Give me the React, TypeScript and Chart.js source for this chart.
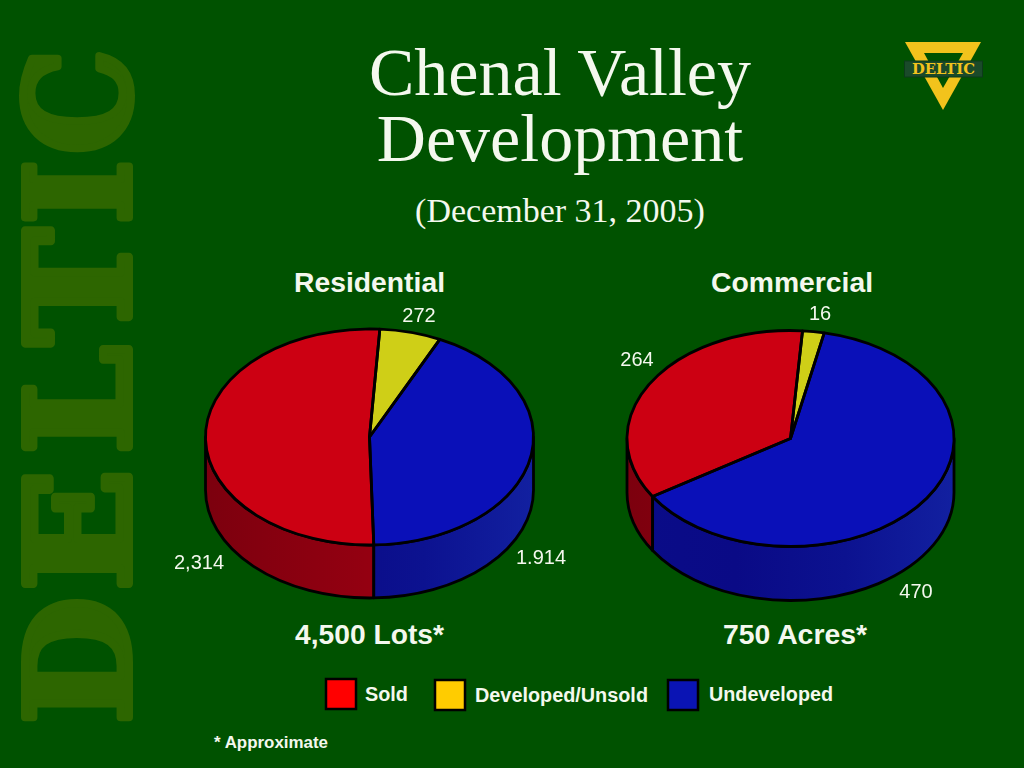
import React, { useEffect, useRef } from "react";
import { Chart, registerables } from "chart.js";

Chart.register(...registerables);

const categories = ["Sold", "Developed/Unsold", "Undeveloped"];
const residentialValues = [2314, 272, 1914];
const commercialValues = [264, 16, 470];
const residentialLabels = ["2,314", "272", "1.914"];
const commercialLabels = ["264", "16", "470"];

const topColors = ["#cc0012", "#cfcf17", "#0a10b8"];
const legendColors = ["#ff0000", "#ffcc00", "#0a14b4"];
const sideStops: string[][] = [
  ["#7c000e", "#8c0010", "#9c0012", "#a00012"],
  ["#8a8a10", "#9a9a10", "#a8a812", "#a8a812"],
  ["#0a0c88", "#0a0a86", "#0c1290", "#1220a0"],
];

const BG = "#005200";
const INK = "#000000";
const TEXT = "#f4f8ee";
const CANVAS_W = 421;
const LINE = 2.8;

const watermark: [string, number, number][] = [
  ["D", 598, 723],
  ["E", 470, 590],
  ["L", 347, 453],
  ["T", 230, 344],
  ["I", 161, 223],
  ["C", 50, 153],
];

type PieProps = {
  values: number[];
  labels: string[];
  rotation: number;
  labelOffsets: [number, number][];
  left: number;
  top: number;
  canvasH: number;
  radius: number;
  ryPx: number;
  depth: number;
};

function makePlugin(labels: string[], labelOffsets: [number, number][], ryPx: number, depth: number) {
  return {
    id: "pie3d",
    beforeDatasetsDraw(chart: any) {
      const ctx = chart.ctx as CanvasRenderingContext2D;
      const arcs = chart.getDatasetMeta(0).data as any[];
      const cx = arcs[0].x;
      const cy = arcs[0].y;
      const rx = arcs[0].outerRadius;
      arcs.forEach((arc, i) => {
        const s = arc.startAngle;
        const e = arc.endAngle;
        for (let k = -1; k < 3; k++) {
          const a = Math.max(s, 2 * Math.PI * k);
          const b = Math.min(e, 2 * Math.PI * k + Math.PI);
          if (b <= a) continue;
          const g = ctx.createLinearGradient(cx - rx, 0, cx + rx, 0);
          sideStops[i].forEach((c, j) => g.addColorStop(j / (sideStops[i].length - 1), c));
          ctx.beginPath();
          ctx.ellipse(cx, cy, rx, ryPx, 0, a, b);
          ctx.ellipse(cx, cy + depth, rx, ryPx, 0, b, a, true);
          ctx.closePath();
          ctx.fillStyle = g;
          ctx.fill();
          ctx.lineWidth = LINE;
          ctx.lineJoin = "round";
          ctx.strokeStyle = INK;
          ctx.stroke();
        }
      });
      ctx.save();
      ctx.translate(cx, cy);
      ctx.scale(1, ryPx / rx);
      ctx.translate(-cx, -cy);
    },
    afterDatasetsDraw(chart: any) {
      const ctx = chart.ctx as CanvasRenderingContext2D;
      ctx.restore();
      const arcs = chart.getDatasetMeta(0).data as any[];
      const cx = arcs[0].x;
      const cy = arcs[0].y;
      const rx = arcs[0].outerRadius;
      arcs.forEach((arc) => {
        ctx.beginPath();
        ctx.moveTo(cx, cy);
        ctx.ellipse(cx, cy, rx, ryPx, 0, arc.startAngle, arc.endAngle);
        ctx.closePath();
        ctx.lineWidth = LINE;
        ctx.lineJoin = "round";
        ctx.strokeStyle = INK;
        ctx.stroke();
      });
      ctx.fillStyle = TEXT;
      ctx.font = "20px 'Liberation Sans'";
      ctx.textAlign = "center";
      ctx.textBaseline = "alphabetic";
      labels.forEach((t, i) => {
        ctx.fillText(t, cx + labelOffsets[i][0], cy + labelOffsets[i][1]);
      });
    },
  };
}

function Pie({ values, labels, rotation, labelOffsets, left, top, canvasH, radius, ryPx, depth }: PieProps) {
  const ref = useRef<HTMLCanvasElement | null>(null);
  useEffect(() => {
    const chart = new Chart(ref.current as HTMLCanvasElement, {
      type: "pie",
      data: {
        labels: categories,
        datasets: [
          {
            data: values,
            backgroundColor: topColors,
            borderWidth: 0,
            radius,
            clip: false,
          } as any,
        ],
      },
      options: {
        responsive: false,
        animation: false,
        rotation,
        layout: { padding: 0 },
        plugins: { legend: { display: false }, tooltip: { enabled: false }, title: { display: false } },
      },
      plugins: [makePlugin(labels, labelOffsets, ryPx, depth)],
    });
    return () => chart.destroy();
  }, []);
  return (
    <canvas
      ref={ref}
      width={CANVAS_W}
      height={canvasH}
      style={{ position: "absolute", left, top, width: CANVAS_W, height: canvasH }}
    />
  );
}

const serif = "'Liberation Serif'";
const sans = "'Liberation Sans'";

export default function App() {
  return (
    <div style={{ position: "absolute", left: 0, top: 0, width: 1024, height: 768, background: BG, overflow: "hidden" }}>
      <svg width={1024} height={768} style={{ position: "absolute", left: 0, top: 0 }}>
        {watermark.map(([ch, y0, y1]) => (
          <text
            key={ch}
            transform={`translate(129 ${y1 + 1}) rotate(-90)`}
            fontFamily="'DejaVu Serif'"
            fontWeight="bold"
            fontSize={142}
            fill="#2d6600"
            stroke="#2d6600"
            strokeWidth={8}
            strokeLinejoin="round"
            textLength={y1 - y0 + 2}
            lengthAdjust="spacingAndGlyphs"
          >
            {ch}
          </text>
        ))}

        <text x={560} y={95} textAnchor="middle" fontFamily={serif} fontSize={68} fill={TEXT}>Chenal Valley</text>
        <text x={560} y={161} textAnchor="middle" fontFamily={serif} fontSize={68} fill={TEXT}>Development</text>
        <text x={560} y={222} textAnchor="middle" fontFamily={serif} fontSize={34} fill={TEXT}>(December 31, 2005)</text>

        <polygon points="905,42 981,42 943,110" fill="#f2c31c" />
        <polygon points="924,53 963,53 943,88" fill={BG} />
        <rect x={904.5} y={61} width={78} height={16} fill="#1a4a2a" stroke="#0c3a1a" strokeWidth={1} />
        <text x={912} y={74} fontFamily="'DejaVu Serif'" fontWeight="bold" fontSize={14} fill="#f2c31c" textLength={63} lengthAdjust="spacingAndGlyphs">DELTIC</text>

        <text x={369.5} y={292} textAnchor="middle" fontFamily={sans} fontWeight="bold" fontSize={28} fill={TEXT} textLength={151} lengthAdjust="spacingAndGlyphs">Residential</text>
        <text x={792} y={292} textAnchor="middle" fontFamily={sans} fontWeight="bold" fontSize={28} fill={TEXT} textLength={162} lengthAdjust="spacingAndGlyphs">Commercial</text>
        <text x={369.5} y={644} textAnchor="middle" fontFamily={sans} fontWeight="bold" fontSize={28} fill={TEXT} textLength={149} lengthAdjust="spacingAndGlyphs">4,500 Lots*</text>
        <text x={795} y={644} textAnchor="middle" fontFamily={sans} fontWeight="bold" fontSize={28} fill={TEXT} textLength={144} lengthAdjust="spacingAndGlyphs">750 Acres*</text>

        <rect x={326} y={679} width={30} height={30} fill={legendColors[0]} stroke={INK} strokeWidth={2.5} />
        <rect x={435} y={680} width={30} height={30} fill={legendColors[1]} stroke={INK} strokeWidth={2.5} />
        <rect x={668} y={680} width={30} height={30} fill={legendColors[2]} stroke={INK} strokeWidth={2.5} />
        <text x={365} y={701} fontFamily={sans} fontWeight="bold" fontSize={20} fill={TEXT} textLength={43} lengthAdjust="spacingAndGlyphs">{categories[0]}</text>
        <text x={475} y={702} fontFamily={sans} fontWeight="bold" fontSize={20} fill={TEXT} textLength={173} lengthAdjust="spacingAndGlyphs">{categories[1]}</text>
        <text x={709} y={701} fontFamily={sans} fontWeight="bold" fontSize={20} fill={TEXT} textLength={124} lengthAdjust="spacingAndGlyphs">{categories[2]}</text>
        <text x={214} y={748} fontFamily={sans} fontWeight="bold" fontSize={17} fill={TEXT} textLength={114} lengthAdjust="spacingAndGlyphs">* Approximate</text>
      </svg>
      <Pie
        values={residentialValues}
        labels={residentialLabels}
        rotation={178.5}
        labelOffsets={[[-170.5, 132], [49.5, -115], [171.5, 127]]}
        left={159}
        top={227}
        canvasH={420}
        radius={164}
        ryPx={108}
        depth={53}
      />
      <Pie
        values={commercialValues}
        labels={commercialLabels}
        rotation={237.5}
        labelOffsets={[[-153.5, -72.5], [29.5, -118.5], [125.5, 159.5]]}
        left={580}
        top={228}
        canvasH={421}
        radius={163.5}
        ryPx={108}
        depth={54}
      />
    </div>
  );
}
